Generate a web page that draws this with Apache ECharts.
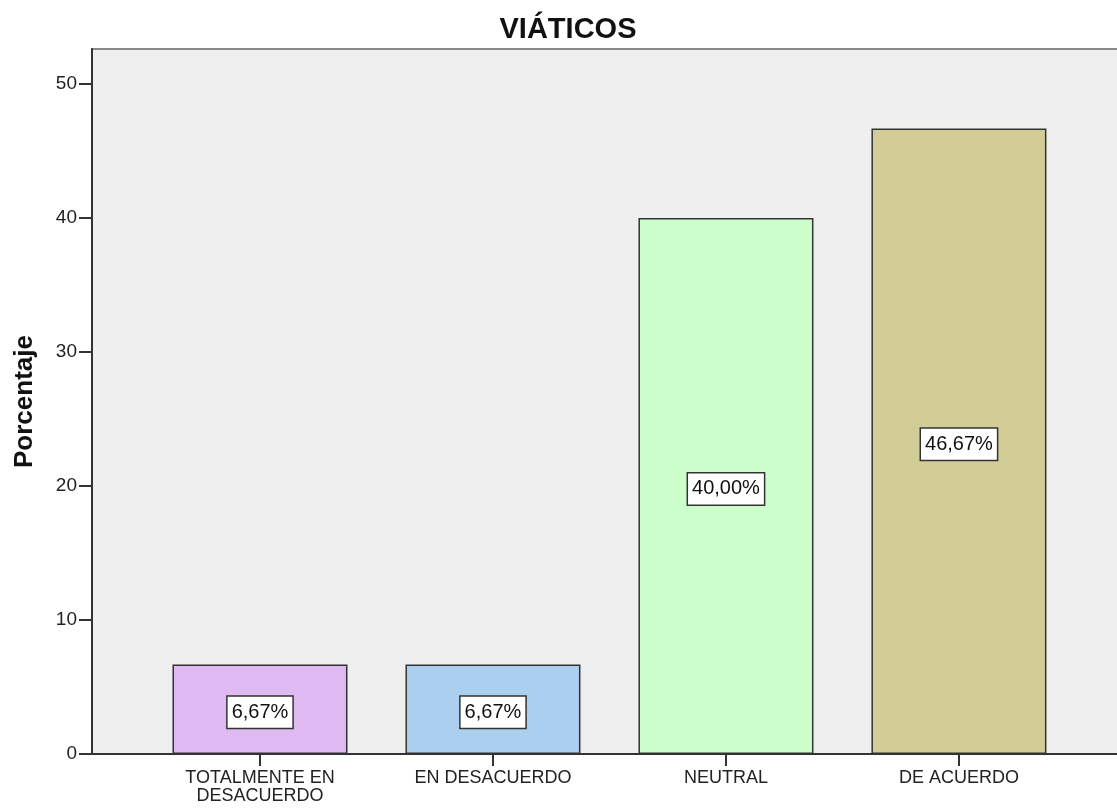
<!DOCTYPE html>
<html>
<head>
<meta charset="utf-8">
<script src="https://cdn.jsdelivr.net/npm/echarts@6/dist/echarts.min.js"></script>
<style>html,body{margin:0;padding:0;background:#fff}#main{width:1117px;height:808px}</style>
</head>
<body>
<div id="main"></div>
<script>
// datos del gráfico
var categorias = ['TOTALMENTE EN\nDESACUERDO', 'EN DESACUERDO', 'NEUTRAL', 'DE ACUERDO'];
var porcentajes = [6.67, 6.67, 40.00, 46.67];
var colores = ['#dfb9f1', '#abcfee', '#ccfecb', '#d2cd97'];
var ticksY = [0, 10, 20, 30, 40, 50];
var posiciones = [1, 2, 3, 4];

var myChart = echarts.init(document.getElementById('main'));

var datos = porcentajes.map(function(v, i) {
	return {
		value: [posiciones[i], v],
		itemStyle: { color: colores[i] }
	};
});

var option = {
	animation: false,
	title: {
		text: 'VIÁTICOS',
		left: 563,
		top: 10,
		textAlign: 'center',
		textStyle: { fontFamily: 'Liberation Sans', fontSize: 29, fontWeight: 'bold', color: '#111' }
	},
	grid: {
		left: 92, top: 49, right: -2, bottom: 54,
		outerBoundsMode: 'none',
		show: true,
		backgroundColor: '#efefef',
		borderColor: '#8a8a8a',
		borderWidth: 2
	},
	xAxis: {
		type: 'value',
		min: 0.279,
		max: 4.687,
		splitLine: { show: false },
		axisLine: { show: true, lineStyle: { color: '#333', width: 2 } },
		axisTick: { show: true, customValues: posiciones, length: 12, lineStyle: { color: '#333', width: 2 } },
		axisLabel: {
			customValues: posiciones,
			formatter: function(v) { return categorias[Math.round(v) - 1]; },
			fontFamily: 'Liberation Sans',
			fontSize: 18,
			lineHeight: 18,
			color: '#222',
			margin: 15
		}
	},
	yAxis: {
		type: 'value',
		min: 0,
		max: 52.6,
		name: 'Porcentaje',
		nameLocation: 'middle',
		nameGap: 54,
		nameRotate: 90,
		nameTextStyle: { fontFamily: 'Liberation Sans', fontSize: 26, fontWeight: 'bold', color: '#111' },
		splitLine: { show: false },
		axisLine: { show: true, lineStyle: { color: '#333', width: 2 } },
		axisTick: { show: true, customValues: ticksY, length: 13, lineStyle: { color: '#333', width: 2 } },
		axisLabel: {
			customValues: ticksY,
			fontFamily: 'Liberation Sans',
			fontSize: 19,
			color: '#222',
			margin: 15
		}
	},
	series: [{
		type: 'bar',
		barWidth: 175,
		data: datos,
		itemStyle: { borderColor: '#333', borderWidth: 1.5 },
		label: {
			show: true,
			position: 'inside',
			offset: [0, 3],
			formatter: function(p) { return p.value[1].toFixed(2).replace('.', ',') + '%'; },
			fontFamily: 'Liberation Sans',
			fontSize: 20,
			color: '#111',
			backgroundColor: '#fff',
			borderColor: '#333',
			borderWidth: 1.5,
			padding: [6, 4, 5, 4]
		}
	}]
};

myChart.setOption(option);
</script>
</body>
</html>
